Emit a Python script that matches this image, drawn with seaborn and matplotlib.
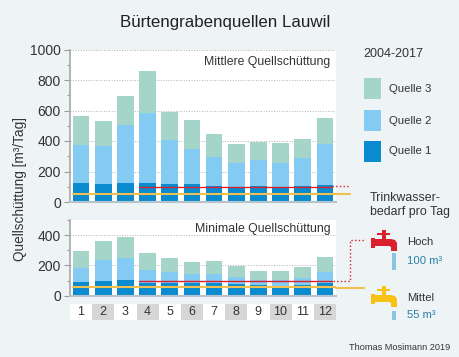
import numpy as np
import pandas as pd
import seaborn as sns
import matplotlib.pyplot as plt
from matplotlib.patches import Polygon, Rectangle

months = list(range(1, 13))
mittel_q1 = [122, 118, 124, 124, 118, 118, 107, 100, 107, 100, 103, 111]
mittel_q2 = [251, 247, 383, 457, 288, 227, 190, 158, 166, 155, 187, 267]
mittel_q3 = [190, 165, 187, 281, 184, 194, 146, 122, 122, 129, 125, 170]
minimal_q1 = [91, 95, 104, 86, 84, 84, 84, 77, 71, 64, 71, 82]
minimal_q2 = [95, 139, 146, 86, 73, 57, 57, 47, 31, 38, 46, 73]
minimal_q3 = [108, 126, 139, 111, 90, 82, 87, 75, 62, 59, 71, 104]
quellen = ['Quelle 1', 'Quelle 2', 'Quelle 3']
bedarf_hoch = 100
bedarf_mittel = 55

BG = '#eef3f6'
C1, C2, C3 = '#0a8bd0', '#84cbf3', '#a5d5c8'
RED = '#d9202c'
YEL = '#f0c050'
TXT = '#333333'

sns.set_theme(style='white')
plt.rcParams['font.family'] = ['Liberation Sans', 'DejaVu Sans']

W, H = 460, 357
fig = plt.figure(figsize=(W / 100, H / 100), dpi=100, facecolor=BG)


def px_axes(x0, y0, x1, y1):
    return fig.add_axes([x0 / W, 1 - y1 / H, (x1 - x0) / W, (y1 - y0) / H])


def stacked(ax, q1, q2, q3, ymax, ticks):
    df = pd.DataFrame({'Monat': months, 'Quelle 1': q1, 'Quelle 2': q2, 'Quelle 3': q3})
    cum = df[quellen].cumsum(axis=1)
    cum['Monat'] = df['Monat']
    ax.set_facecolor('white')
    ax.grid(axis='y', color='#b0b0b0', linestyle=':', linewidth=0.7)
    ax.set_axisbelow(True)
    for q, c in zip(quellen[::-1], [C3, C2, C1]):
        sns.barplot(data=cum, x='Monat', y=q, color=c, width=0.75, saturation=1, linewidth=0, ax=ax)
    ax.set_xlim(-0.5, 11.5)
    ax.set_ylim(0, ymax)
    ax.set_yticks(ticks)
    ax.set_yticks(np.arange(100, ymax, 200), minor=True)
    ax.set_xticks([])
    ax.set_xlabel('')
    ax.set_ylabel('')
    ax.tick_params(axis='y', which='major', length=4, width=0.8, color='#999999',
                   labelsize=10, labelcolor=TXT, pad=2.5, left=True)
    ax.tick_params(axis='y', which='minor', length=2.5, width=0.8, color='#999999', left=True)
    sns.despine(ax=ax, top=True, right=True)
    ax.spines['left'].set_color('#aaaaaa')
    ax.spines['bottom'].set_color('#b5c4cc')
    ax.spines['bottom'].set_linewidth(1.5)
    ax.axhline(bedarf_mittel, xmin=0.01, color=YEL, lw=1.5, zorder=5)
    ax.axhline(bedarf_hoch, xmin=0.26, xmax=0.985, color=RED, lw=1, zorder=5)


ax1 = px_axes(70, 49.5, 336, 202)
stacked(ax1, mittel_q1, mittel_q2, mittel_q3, 1000, [0, 200, 400, 600, 800, 1000])
ax1.text(0.98, 0.955, 'Mittlere Quellschüttung', transform=ax1.transAxes, ha='right', va='top',
         fontsize=8.8, color=TXT)

ax2 = px_axes(70, 219.7, 336, 295.7)
stacked(ax2, minimal_q1, minimal_q2, minimal_q3, 503, [0, 200, 400])
ax2.text(0.98, 0.96, 'Minimale Quellschüttung', transform=ax2.transAxes, ha='right', va='top',
         fontsize=8.8, color=TXT)

# overlay in pixel coordinates for labels, legend and tap icons
ov = fig.add_axes([0, 0, 1, 1], facecolor='none')
ov.set_xlim(0, W)
ov.set_ylim(H, 0)
ov.axis('off')
ov.set_zorder(10)

ov.text(225, 23, 'Bürtengrabenquellen Lauwil', ha='center', va='center', fontsize=12.2, color='#222222')
ov.text(20, 189, 'Quellschüttung [m³/Tag]', rotation=90, ha='center', va='center', fontsize=9.8, color=TXT)

# month boxes
for i, m in enumerate(months):
    x = 70 + i * 22.17
    ov.add_patch(Rectangle((x, 303.7), 22.17, 16, fc='#d6d6d6' if i % 2 else 'white', ec='none'))
    ov.text(x + 11, 312, str(m), ha='center', va='center', fontsize=9, color=TXT)

# legend
ov.text(363, 54, '2004-2017', ha='left', va='center', fontsize=9, color=TXT)
for y0, c, lab in [(78, C3, 'Quelle 3'), (110, C2, 'Quelle 2'), (141, C1, 'Quelle 1')]:
    ov.add_patch(Rectangle((364, y0), 17, 21, fc=c, ec='none'))
    ov.text(389, y0 + 10.5, lab, ha='left', va='center', fontsize=8.2, color=TXT)

ov.text(370, 198, 'Trinkwasser-', ha='left', va='center', fontsize=8.9, color=TXT)
ov.text(370, 212, 'bedarf pro Tag', ha='left', va='center', fontsize=8.9, color=TXT)

# demand lines leaving the panels
ov.plot([332, 350], [186, 186], color=RED, lw=1, ls=':')
ov.plot([333, 350, 350, 364], [280.7, 280.7, 240, 240], color=RED, lw=1, ls=':')
ov.plot([336, 350], [193.5, 193.5], color=YEL, lw=1.5)
ov.plot([336, 364], [287.7, 287.7], color=YEL, lw=1.5)


def tap(x, y, col, drop_y, drop):
    # x = stem centre, y = top of handle stem
    pts = [(x - 2, y), (x + 2, y), (x + 2, y + 3), (x + 6, y + 3), (x + 6, y + 5), (x + 2, y + 5),
           (x + 2, y + 9), (x + 7, y + 9), (x + 11, y + 10), (x + 13, y + 13), (x + 13, y + 21),
           (x + 7, y + 21), (x + 7, y + 17), (x + 5, y + 16), (x - 9, y + 16), (x - 9, y + 18),
           (x - 13, y + 18), (x - 13, y + 8), (x - 9, y + 8), (x - 9, y + 9), (x - 2, y + 9),
           (x - 2, y + 5), (x - 7, y + 5), (x - 7, y + 3), (x - 2, y + 3)]
    ov.add_patch(Polygon(pts, closed=True, fc=col, ec='none'))
    ov.add_patch(Rectangle((x + 8, drop_y), 4.5, drop, fc='#8cc4e0', ec='none'))


tap(384, 230, '#d9202c', 253, 17)
tap(384, 286, '#f8c215', 311, 9)

ov.text(407, 242, 'Hoch', ha='left', va='center', fontsize=8.1, color=TXT)
ov.text(407, 261, '100 m³', ha='left', va='center', fontsize=8.1, color='#2a7fa8')
ov.text(407, 298, 'Mittel', ha='left', va='center', fontsize=8.1, color=TXT)
ov.text(407, 315, '55 m³', ha='left', va='center', fontsize=8.1, color='#2a7fa8')
ov.text(450, 347, 'Thomas Mosimann 2019', ha='right', va='center', fontsize=6.6, color=TXT)

fig.savefig('out.png', dpi=100, facecolor=BG)
